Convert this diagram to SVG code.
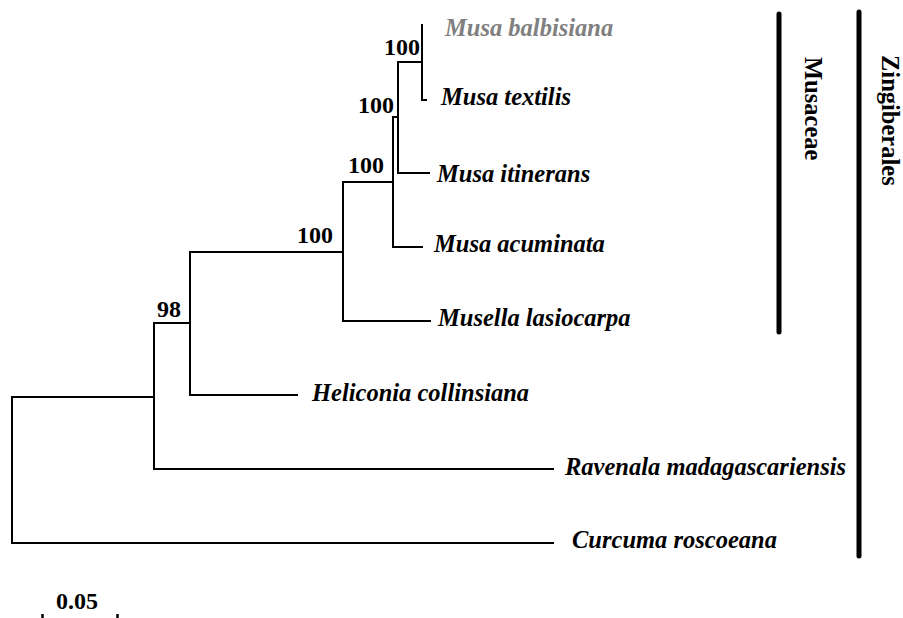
<svg xmlns="http://www.w3.org/2000/svg" width="903" height="618" viewBox="0 0 903 618">
<style>
  .br { fill: none; stroke: #000; stroke-width: 2; stroke-linecap: square; }
  .bar { stroke: #000; stroke-width: 5; stroke-linecap: round; }
  .taxon { font-family: "Liberation Serif", "Times New Roman", serif; font-weight: bold; font-style: italic; font-size: 24.5px; fill: #000; }
  .grey { fill: #808080; }
  .boot { font-family: "Liberation Serif", "Times New Roman", serif; font-weight: bold; font-size: 24px; fill: #000; }
  .clade { font-family: "Liberation Serif", "Times New Roman", serif; font-weight: bold; font-size: 24.5px; fill: #000; }
</style>
<rect width="903" height="618" fill="#fff"/>
<g id="connectors">
  <path class="br" d="M154,397 H12 V543 H553"/>
  <path class="br" d="M190,323 H154 V469 H553"/>
  <path class="br" d="M343,252 H190 V395 H297"/>
  <path class="br" d="M393,182 H343 V321 H430"/>
  <path class="br" d="M398,117 H393 V247 H422"/>
  <path class="br" d="M422,62 H398 V173 H429"/>
  <path class="br" d="M422,25 V100 H426"/>
</g>
<g id="taxon-musa-balbisiana"><text class="taxon grey" x="445" y="36">Musa balbisiana</text></g>
<g id="taxon-musa-textilis"><text class="taxon" x="441" y="105">Musa textilis</text></g>
<g id="taxon-musa-itinerans"><text class="taxon" x="437" y="182">Musa itinerans</text></g>
<g id="taxon-musa-acuminata"><text class="taxon" x="434" y="252">Musa acuminata</text></g>
<g id="taxon-musella-lasiocarpa"><text class="taxon" x="438" y="326">Musella lasiocarpa</text></g>
<g id="taxon-heliconia-collinsiana"><text class="taxon" x="312" y="401">Heliconia collinsiana</text></g>
<g id="taxon-ravenala"><text class="taxon" x="565" y="475">Ravenala madagascariensis</text></g>
<g id="taxon-curcuma"><text class="taxon" x="572" y="548">Curcuma roscoeana</text></g>
<g id="bootstrap">
  <text class="boot" x="384" y="55">100</text>
  <text class="boot" x="358" y="113">100</text>
  <text class="boot" x="348" y="173">100</text>
  <text class="boot" x="297" y="243">100</text>
  <text class="boot" x="157" y="317">98</text>
</g>
<g id="clade-musaceae">
  <line class="bar" x1="779" y1="14" x2="779" y2="332"/>
  <text class="clade" transform="translate(805,57) rotate(90)">Musaceae</text>
</g>
<g id="clade-zingiberales">
  <line class="bar" x1="859" y1="12" x2="859" y2="556"/>
  <text class="clade" transform="translate(882,55) rotate(90)">Zingiberales</text>
</g>
<g id="scale">
  <text class="boot" x="56" y="609">0.05</text>
  <line x1="42.5" y1="614" x2="42.5" y2="620" stroke="#000" stroke-width="2.5"/>
  <line x1="117.5" y1="614" x2="117.5" y2="620" stroke="#000" stroke-width="2.5"/>
</g>
</svg>
